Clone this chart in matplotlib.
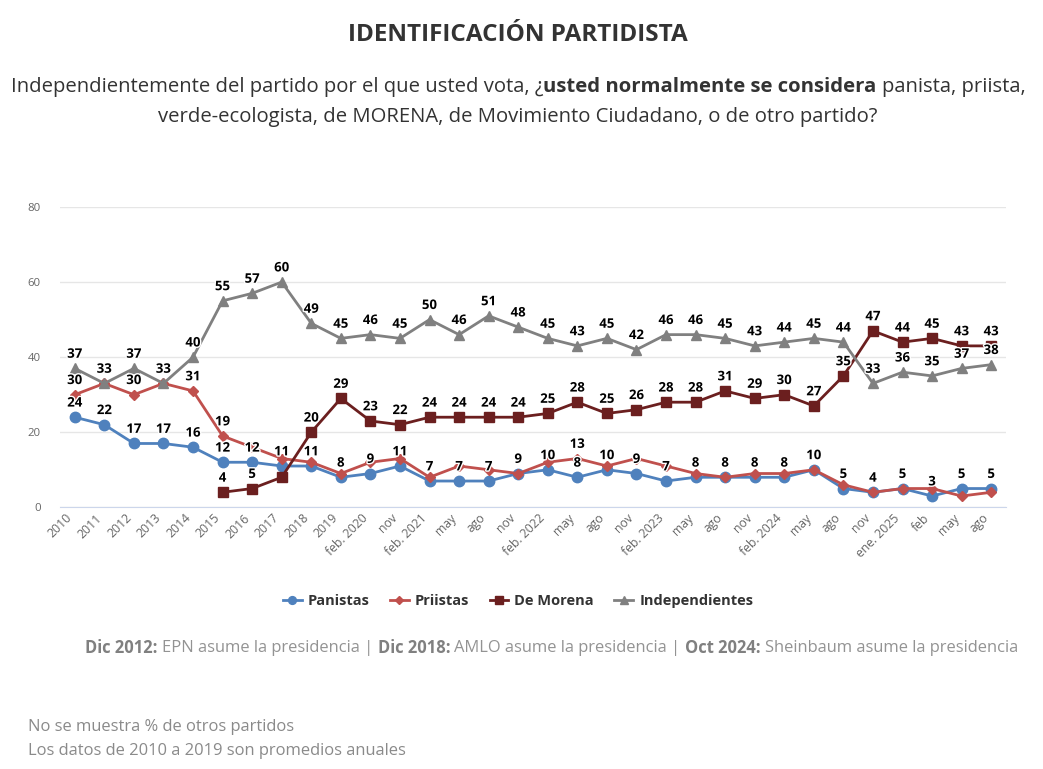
import matplotlib
matplotlib.use("Agg")
import matplotlib.pyplot as plt
import matplotlib.patheffects as pe

# ---- data ----
categories = [
    "2010", "2011", "2012", "2013", "2014", "2015", "2016", "2017", "2018", "2019",
    "feb. 2020", "nov",
    "feb. 2021", "may", "ago", "nov",
    "feb. 2022", "may", "ago", "nov",
    "feb. 2023", "may", "ago", "nov",
    "feb. 2024", "may", "ago", "nov",
    "ene. 2025", "feb", "may", "ago",
]
panistas = [24, 22, 17, 17, 16, 12, 12, 11, 11, 8, 9, 11, 7, 7, 7, 9,
            10, 8, 10, 9, 7, 8, 8, 8, 8, 10, 5, 4, 5, 3, 5, 5]
priistas = [30, 33, 30, 33, 31, 19, 16, 13, 12, 9, 12, 13, 8, 11, 10, 9,
            12, 13, 11, 13, 11, 9, 8, 9, 9, 10, 6, 4, 5, 5, 3, 4]
morena = [None, None, None, None, None, 4, 5, 8, 20, 29, 23, 22, 24, 24, 24, 24,
          25, 28, 25, 26, 28, 28, 31, 29, 30, 27, 35, 47, 44, 45, 43, 43]
independientes = [37, 33, 37, 33, 40, 55, 57, 60, 49, 45, 46, 45, 50, 46, 51, 48,
                  45, 43, 45, 42, 46, 46, 45, 43, 44, 45, 44, 33, 36, 35, 37, 38]

# labels the original chart leaves visible (others hidden by overlap)
priistas_labels_at = [0, 2, 4, 5, 17]
morena_hidden_labels = [7]

W, H = 1043, 769


def fx(px):
    return px / W


def fy(py):
    return 1 - py / H


plt.rcParams["font.family"] = ["Open Sans", "DejaVu Sans"]

fig = plt.figure(figsize=(W / 100, H / 100), dpi=100)
ax = fig.add_axes([fx(60), fy(507.3), fx(1006) - fx(60), fy(207) - fy(507.3)])

x = list(range(len(categories)))
series = [
    ("Panistas", panistas, "#4f81bd", "o", 7.5),
    ("Priistas", priistas, "#c0504d", "D", 5),
    ("De Morena", morena, "#6b1f1f", "s", 7.5),
    ("Independientes", independientes, "#808080", "^", 7.5),
]
for name, vals, color, marker, ms in series:
    xs = [i for i, v in zip(x, vals) if v is not None]
    ys = [v for v in vals if v is not None]
    ax.plot(xs, ys, color=color, marker=marker, markersize=ms, linewidth=2,
            label=name, zorder=3)


def label_points(vals, keep):
    for i, v in enumerate(vals):
        if v is None or not keep(i):
            continue
        ax.annotate(str(v), (i, v), xytext=(0, 5.5), textcoords="offset points",
                    ha="center", va="bottom", fontsize=9.5, fontweight="bold",
                    color="black", zorder=5,
                    path_effects=[pe.withStroke(linewidth=2, foreground="white")])


label_points(panistas, lambda i: True)
label_points(priistas, lambda i: i in priistas_labels_at)
label_points(morena, lambda i: i not in morena_hidden_labels)
label_points(independientes, lambda i: True)

ax.set_xlim(-0.5, len(categories) - 0.5)
ax.set_ylim(0, 80)
ax.set_yticks([0, 20, 40, 60, 80])
ax.set_xticks(x)
ax.set_xticklabels(categories, rotation=45, ha="right", va="top")
ax.tick_params(axis="both", length=0, labelcolor="#666666")
ax.tick_params(axis="y", pad=14, labelsize=8.2)
ax.tick_params(axis="x", pad=3, labelsize=8.8)
ax.grid(axis="y", color="#e6e6e6", linewidth=1)
ax.set_axisbelow(True)
for side in ["top", "right", "left"]:
    ax.spines[side].set_visible(False)
ax.spines["bottom"].set_color("#ccd6eb")

# ---- texts ----
fig.text(fx(518), fy(35), "IDENTIFICACIÓN PARTIDISTA", ha="center", va="center",
         fontsize=17.5, fontweight="bold", color="#333333")

renderer = fig.canvas.get_renderer()


def rich_line(parts, xpos, ypos, align, size):
    """Draw segments with mixed weights on one line."""
    texts = []
    for txt, weight, color in parts:
        t = fig.text(0, ypos, txt.strip(), ha="left", va="center", fontsize=size,
                     fontweight=weight, color=color)
        texts.append((t, txt))
    probe1 = fig.text(0, 0, "x x", fontsize=size)
    probe2 = fig.text(0, 0, "xx", fontsize=size)
    sp = (probe1.get_window_extent(renderer).width
          - probe2.get_window_extent(renderer).width)
    probe1.remove()
    probe2.remove()
    widths = []
    for t, txt in texts:
        w = t.get_window_extent(renderer).width
        lead = sp if txt.startswith(" ") else 0
        trail = sp if txt.endswith(" ") else 0
        widths.append((lead, w, trail))
    total = sum(a + b + c for a, b, c in widths)
    if align == "center":
        start = xpos * W - total / 2
    elif align == "right":
        start = xpos * W - total
    else:
        start = xpos * W
    cur = start
    for (t, _), (lead, w, trail) in zip(texts, widths):
        cur += lead
        t.set_x(cur / W)
        cur += w + trail


sub_color = "#333333"
rich_line([("Independientemente del partido por el que usted vota, ¿", "normal", sub_color),
           ("usted normalmente se considera", "bold", sub_color),
           (" panista, priista,", "normal", sub_color)],
          fx(518), fy(87), "center", 14.6)
fig.text(fx(518), fy(117), "verde-ecologista, de MORENA, de Movimiento Ciudadano, o de otro partido?",
         ha="center", va="center", fontsize=14.6, color=sub_color)

fig.legend(loc="center", bbox_to_anchor=(fx(518), fy(601)), ncol=4, frameon=False,
           prop={"weight": "bold", "size": 10.5}, handlelength=1.3,
           columnspacing=1.4, handletextpad=0.4, labelcolor="#333333",
           markerscale=0.75)

bold_c, norm_c = "#808080", "#939393"
rich_line([("Dic 2012:", "bold", bold_c), (" EPN asume la presidencia | ", "normal", norm_c),
           ("Dic 2018:", "bold", bold_c), (" AMLO asume la presidencia | ", "normal", norm_c),
           ("Oct 2024:", "bold", bold_c), (" Sheinbaum asume la presidencia", "normal", norm_c)],
          fx(1018), fy(648), "right", 11.9)

fig.text(fx(28), fy(727), "No se muestra % de otros partidos", ha="left", va="center",
         fontsize=11.9, color="#8a8a8a")
fig.text(fx(28), fy(751), "Los datos de 2010 a 2019 son promedios anuales", ha="left",
         va="center", fontsize=11.9, color="#8a8a8a")

fig.savefig("out.png", dpi=100)
